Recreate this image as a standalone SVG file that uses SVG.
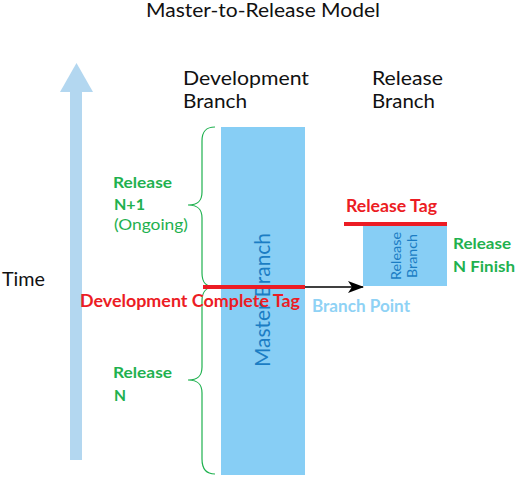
<svg xmlns="http://www.w3.org/2000/svg" width="516" height="477" viewBox="0 0 516 477">
<style>
text{font-family:Lato,"Noto Sans","Liberation Sans",sans-serif}
.blk{fill:#111;font-size:18.5px}
.grn{fill:#1fb14f;font-size:16px;font-weight:bold}
.grnr{fill:#1fb14f;font-size:16px}
.red{fill:#ec1c24;font-size:16.5px;font-weight:bold}
.lb{fill:#8fd2f5;font-size:16.5px;font-weight:bold}
.inr{fill:#1b7dc4}
.brace{fill:none;stroke:#1fb14f;stroke-width:1.2}
.tag{stroke:#ec1c24;stroke-width:4}
</style>
<defs>
<marker id="ah" viewBox="0 0 16 12" refX="15" refY="6" markerWidth="16" markerHeight="12" markerUnits="userSpaceOnUse" orient="auto">
<path d="M0,0 L16,6 L0,12 L4,6 Z" fill="#000"/>
</marker>
</defs>
<rect width="516" height="477" fill="#fff"/>
<text class="blk" x="146" y="17" textLength="234" lengthAdjust="spacingAndGlyphs">Master-to-Release Model</text>
<g id="time">
<rect x="70" y="91" width="12" height="369" fill="#b3d7f0"/>
<polygon points="60,92 76.5,63 93,92" fill="#b3d7f0"/>
<text class="blk" x="2" y="286" textLength="43" lengthAdjust="spacingAndGlyphs">Time</text>
</g>
<g id="dev-label">
<text class="blk" x="183" y="85" textLength="126" lengthAdjust="spacingAndGlyphs">Development</text>
<text class="blk" x="183" y="108" textLength="64" lengthAdjust="spacingAndGlyphs">Branch</text>
</g>
<g id="rel-label">
<text class="blk" x="372" y="85" textLength="71" lengthAdjust="spacingAndGlyphs">Release</text>
<text class="blk" x="372" y="108" textLength="63" lengthAdjust="spacingAndGlyphs">Branch</text>
</g>
<g id="release-n1">
<path class="brace" d="M215,127 C206,127 202,131 202,141 L202,192 C202,201 198,205 188,205 C198,205 202,209 202,218 L202,273 C202,283 206,287 215,287"/>
<text class="grn" x="113" y="188" textLength="59" lengthAdjust="spacingAndGlyphs">Release</text>
<text class="grn" x="114" y="210" textLength="31" lengthAdjust="spacingAndGlyphs">N+1</text>
<text class="grnr" x="114" y="230" textLength="74" lengthAdjust="spacingAndGlyphs">(Ongoing)</text>
</g>
<g id="release-n">
<path class="brace" d="M215,287 C206,287 202,291 202,301 L202,367 C202,376 198,380 188,380 C198,380 202,384 202,393 L202,459 C202,469 206,474 215,474"/>
<text class="grn" x="113" y="378" textLength="59" lengthAdjust="spacingAndGlyphs">Release</text>
<text class="grn" x="114" y="401" textLength="12" lengthAdjust="spacingAndGlyphs">N</text>
</g>
<g id="master">
<rect x="221" y="127" width="84" height="348" fill="#87cef5"/>
<text class="inr" font-size="21" transform="translate(270,300) rotate(-90)" text-anchor="middle" textLength="134" lengthAdjust="spacingAndGlyphs">Master Branch</text>
</g>
<g id="release-branch">
<rect x="363" y="226" width="84" height="60" fill="#87cef5"/>
<text class="inr" font-size="13" transform="translate(401,256) rotate(-90)" text-anchor="middle" textLength="48" lengthAdjust="spacingAndGlyphs">Release</text>
<text class="inr" font-size="13" transform="translate(417,256) rotate(-90)" text-anchor="middle" textLength="44" lengthAdjust="spacingAndGlyphs">Branch</text>
<text class="grn" x="453" y="249" textLength="58" lengthAdjust="spacingAndGlyphs">Release</text>
<text class="grn" x="453" y="272" textLength="62" lengthAdjust="spacingAndGlyphs">N Finish</text>
</g>
<g id="connectors">
<line x1="305" y1="287" x2="363" y2="287" stroke="#000" stroke-width="1.5" marker-end="url(#ah)"/>
</g>
<g id="dev-complete-tag">
<line class="tag" x1="203" y1="287" x2="305" y2="287"/>
<text class="red" x="80" y="307" textLength="220" lengthAdjust="spacingAndGlyphs">Development Complete Tag</text>
</g>
<g id="release-tag">
<line class="tag" x1="344" y1="224" x2="447" y2="224"/>
<text class="red" x="346" y="212" textLength="91" lengthAdjust="spacingAndGlyphs">Release Tag</text>
</g>
<g id="branch-point">
<text class="lb" x="312" y="312" textLength="98" lengthAdjust="spacingAndGlyphs">Branch Point</text>
</g>
</svg>
